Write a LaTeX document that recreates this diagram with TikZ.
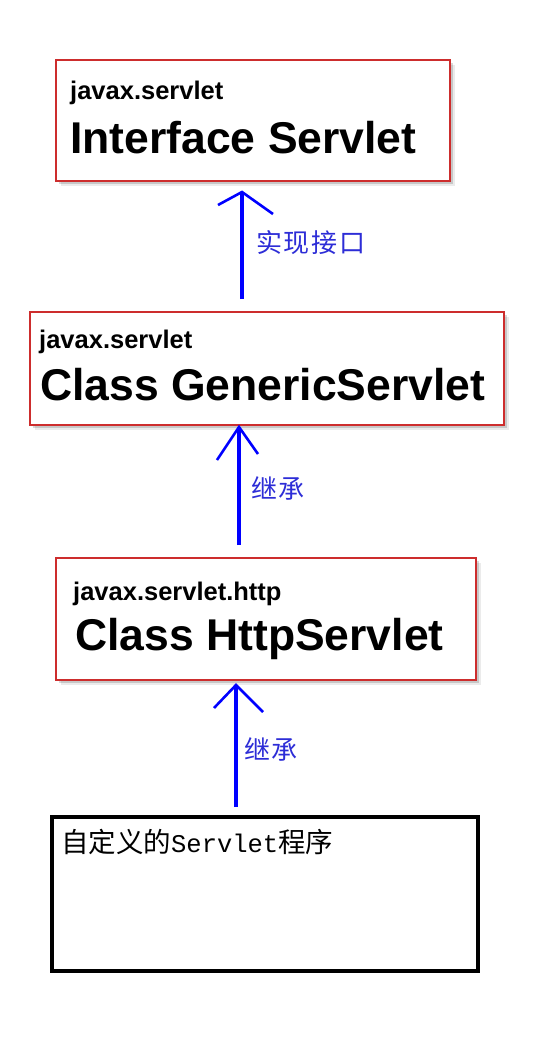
\documentclass[tikz,border=0pt]{standalone}
\usepackage{fontspec}
\setmainfont{Liberation Sans}
\newfontfamily\cjk{Noto Sans CJK SC}
\newfontfamily\cjklbl[LetterSpace=7]{Noto Sans CJK SC}
\newfontfamily\monofam{Liberation Mono}
\usetikzlibrary{shadows}
\definecolor{boxred}{RGB}{205,45,45}
\definecolor{arrblue}{RGB}{0,0,255}
\definecolor{lblblue}{RGB}{45,45,215}
\tikzset{
  redbox/.style={draw=boxred, line width=2pt, fill=white, rectangle, inner sep=0pt, anchor=north west,
    drop shadow={shadow xshift=5pt, shadow yshift=-5pt, opacity=0.08, fill=black},
    drop shadow={shadow xshift=3pt, shadow yshift=-3pt, opacity=0.15, fill=black}},
  blackbox/.style={draw=black, line width=3.5pt, fill=white, rectangle, inner sep=0pt, anchor=north west},
  pkgtext/.style={anchor=base west, inner sep=0pt, font=\bfseries\fontsize{25.5}{30}\selectfont},
  clstext/.style={anchor=base west, inner sep=0pt, font=\bfseries\fontsize{44.5}{50}\selectfont},
  lbl/.style={anchor=west, inner sep=0pt, text=lblblue, font=\cjklbl\fontsize{26}{30}\selectfont},
  conn/.style={draw=arrblue, line width=3.8pt},
  headline/.style={draw=arrblue, line width=2.6pt, line join=miter}
}
\begin{document}
\begin{tikzpicture}[x=1pt, y=-1pt]
\useasboundingbox[fill=white] (0,0) rectangle (535,1037);

% boxes
\node[redbox, minimum width=394pt, minimum height=121pt] (b1) at (55,59) {};
\node[redbox, minimum width=474pt, minimum height=113pt] (b2) at (29,311) {};
\node[redbox, minimum width=420pt, minimum height=122pt] (b3) at (55,557) {};
\node[blackbox, minimum width=426pt, minimum height=154pt] (b4) at (50,815) {};

% texts
\node[pkgtext] (p1) at (70,99) {javax.servlet};
\node[clstext] (c1) at (70,153) {Interface Servlet};
\node[pkgtext] (p2) at (39,348) {javax.servlet};
\node[clstext] (c2) at (40,400) {Class GenericServlet};
\node[pkgtext] (p3) at (73,600) {javax.servlet.http};
\node[clstext] (c3) at (75,650) {Class HttpServlet};
\node[anchor=base west, inner sep=0pt] (t4) at (61,852)
  {{\cjk\fontsize{27.5}{30}\selectfont 自定义的}{\monofam\fontsize{25.5}{30}\selectfont Servlet}{\cjk\fontsize{27.5}{30}\selectfont 程序}};

% arrow 1
\coordinate (s1) at (242,299);
\coordinate (e1) at (242,192);
\coordinate (h1l) at (218,205);
\coordinate (h1r) at (273,214);
\draw[conn] (s1) -- (e1);
\draw[headline] (h1l) -- (e1) -- (h1r);
\node[lbl] (l1) at (256,243) {实现接口};

% arrow 2
\coordinate (s2) at (239,545);
\coordinate (e2) at (239,427);
\coordinate (h2l) at (217,460);
\coordinate (h2r) at (258,454);
\draw[conn] (s2) -- (e2);
\draw[headline] (h2l) -- (e2) -- (h2r);
\node[lbl] (l2) at (251,488) {继承};

% arrow 3
\coordinate (s3) at (236,807);
\coordinate (e3) at (236,685);
\coordinate (h3l) at (214,708);
\coordinate (h3r) at (263,712);
\draw[conn] (s3) -- (e3);
\draw[headline] (h3l) -- (e3) -- (h3r);
\node[lbl] (l3) at (244,749) {继承};
\end{tikzpicture}
\end{document}
